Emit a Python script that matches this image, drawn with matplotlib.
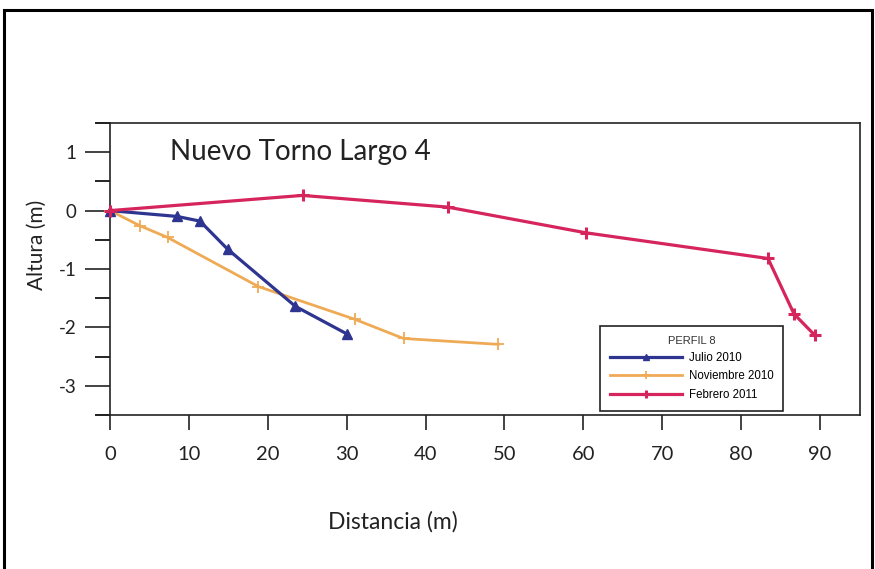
import matplotlib
matplotlib.use("Agg")
import matplotlib.pyplot as plt
from matplotlib.patches import Rectangle
from matplotlib.ticker import FixedLocator

# Data
julio_x = [0, 8.5, 11.4, 14.9, 23.5, 30.0]
julio_y = [0, -0.10, -0.18, -0.66, -1.64, -2.11]
nov_x = [0, 3.8, 7.3, 18.8, 31.0, 37.2, 49.2]
nov_y = [0, -0.26, -0.46, -1.30, -1.86, -2.19, -2.29]
feb_x = [0, 24.4, 42.8, 60.3, 83.4, 86.7, 89.3]
feb_y = [0, 0.26, 0.06, -0.38, -0.82, -1.77, -2.13]
x_ticks = [0, 10, 20, 30, 40, 50, 60, 70, 80, 90]
y_ticks = [1, 0, -1, -2, -3]
series_labels = ["Julio 2010", "Noviembre 2010", "Febrero 2011"]

W, H = 875, 569
fig = plt.figure(figsize=(W / 100, H / 100), dpi=100)
fig.patch.set_facecolor("white")

def fx(px):
    return px / W

def fy(py):
    return 1 - py / H

ax = fig.add_axes([fx(97), fy(415), fx(860) - fx(97), fy(123) - fy(415)])
ax.set_xlim(-1.65, 95.06)
ax.set_ylim(-3.5, 1.5)

navy = "#2E3590"
orange = "#EFAA55"
crimson = "#D6245C"

ax.plot(julio_x, julio_y, color=navy, lw=2.3, marker="^", ms=6.5,
        label=series_labels[0], zorder=3)
ax.plot(nov_x, nov_y, color=orange, lw=2.0, marker="+", ms=8, mew=1.3,
        label=series_labels[1], zorder=2)
ax.plot(feb_x, feb_y, color=crimson, lw=2.3, marker="+", ms=8, mew=2.2,
        label=series_labels[2], zorder=4)

for s in ax.spines.values():
    s.set_linewidth(1.2)
    s.set_color("#222222")
ax.spines["left"].set_position(("data", 0))

ax.xaxis.set_major_locator(FixedLocator(x_ticks))
ax.yaxis.set_major_locator(FixedLocator(y_ticks))
ax.yaxis.set_minor_locator(FixedLocator([1.5, 0.5, -0.5, -1.5, -2.5, -3.5]))

font = "Lato"
ax.tick_params(axis="x", direction="out", length=11, width=1.2, pad=11,
               labelsize=14.5, colors="#222222")
ax.tick_params(axis="y", which="major", direction="out", length=18, width=1.2,
               pad=6, labelsize=13.5, colors="#222222")
ax.tick_params(axis="y", which="minor", direction="out", length=11, width=1.2)
ax.set_yticklabels([str(v) for v in y_ticks])
for lab in ax.get_xticklabels() + ax.get_yticklabels():
    lab.set_fontfamily(font)

ax.text(fx(170), fy(152), "Nuevo Torno Largo 4", transform=fig.transFigure,
        ha="left", va="center", fontsize=20, fontfamily=font, color="#222222")

fig.text(fx(393), fy(522), "Distancia (m)", ha="center", va="center",
         fontsize=16.5, fontfamily=font, color="#222222")
fig.text(fx(37), fy(245), "Altura (m)", ha="center", va="center",
         rotation=90, fontsize=15, fontfamily=font, color="#222222")

leg = ax.legend(loc="upper left", bbox_to_anchor=(fx(600), fy(326)),
                bbox_transform=fig.transFigure, borderaxespad=0,
                title="PERFIL 8", prop={"family": "Liberation Sans", "size": 8.3},
                handlelength=6.3, handletextpad=0.55, labelspacing=0.55,
                borderpad=0.85, fancybox=False, framealpha=1,
                edgecolor="#222222", markerscale=0.7)
leg.get_title().set_fontfamily("Liberation Sans")
leg.get_title().set_fontsize(8)
leg.get_title().set_color("#333333")
leg.get_frame().set_linewidth(1.2)
leg.get_frame().set_boxstyle("square", pad=0.0)
leg.set_zorder(10)

fig.add_artist(Rectangle((fx(4), -0.02), fx(872) - fx(4), fy(10) + 0.02,
                         transform=fig.transFigure, fill=False,
                         edgecolor="black", lw=2.2))

fig.savefig("out.png", dpi=100, facecolor="white")
